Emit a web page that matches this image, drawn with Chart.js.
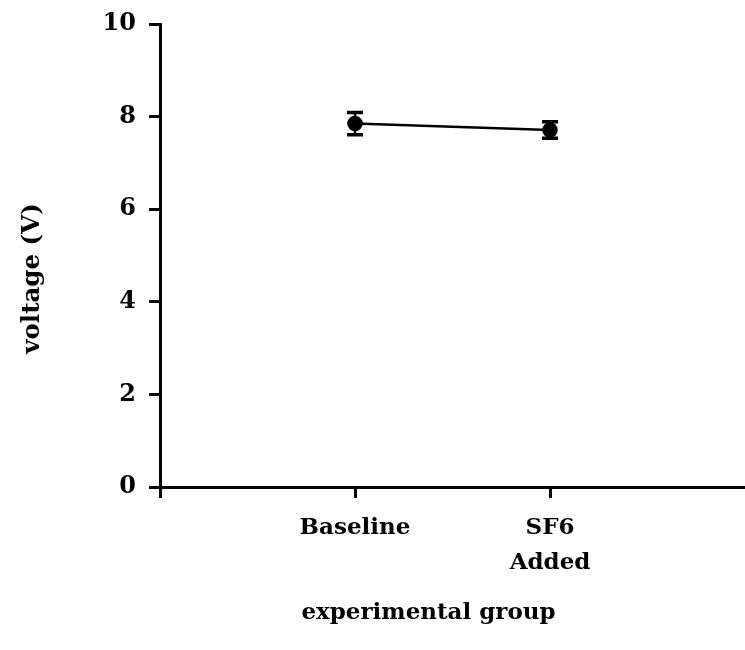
<!DOCTYPE html>
<html>
<head>
<meta charset="utf-8">
<script src="https://cdn.jsdelivr.net/npm/chart.js@4"></script>
<style>
  html, body { margin: 0; padding: 0; background: #fff; }
  #wrap { width: 745px; height: 650px; }
</style>
</head>
<body>
<div id="wrap"><canvas id="c" width="745" height="650"></canvas></div>
<script>
// ---- data ----
const categories = ['', 'Baseline', ['SF6', 'Added'], ''];
const meanVoltage = [null, 7.85, 7.71, null];
const errVoltage  = [null, 0.24, 0.18, null];
const yTicks = [0, 2, 4, 6, 8, 10];
const xTitle = 'experimental group';
const yTitle = 'voltage (V)';

const FONT = '"DejaVu Serif", "Liberation Serif", serif';

const errorBars = {
  id: 'errorBars',
  beforeDatasetsDraw(chart) {
    const ctx = chart.ctx;
    const xs = chart.scales.x, ys = chart.scales.y;
    ctx.save();
    ctx.strokeStyle = '#000';
    meanVoltage.forEach((m, i) => {
      if (m == null) return;
      const x = xs.getPixelForValue(i);
      const yt = ys.getPixelForValue(m + errVoltage[i]);
      const yb = ys.getPixelForValue(m - errVoltage[i]);
      ctx.lineWidth = 2.5;
      ctx.beginPath();
      ctx.moveTo(x, yt); ctx.lineTo(x, yb);
      ctx.stroke();
      ctx.lineWidth = 3.5;
      ctx.beginPath();
      ctx.moveTo(x - 8, yt); ctx.lineTo(x + 8, yt);
      ctx.moveTo(x - 8, yb); ctx.lineTo(x + 8, yb);
      ctx.stroke();
    });
    ctx.restore();
  }
};

const axisTitles = {
  id: 'axisTitles',
  afterDraw(chart) {
    const ctx = chart.ctx;
    const a = chart.chartArea;
    ctx.save();
    ctx.fillStyle = '#000';
    ctx.textAlign = 'center';
    ctx.textBaseline = 'middle';
    ctx.font = 'bold 23px ' + FONT;
    ctx.fillText(xTitle, (a.left + a.right) / 2 - 24, a.bottom + 126);
    ctx.font = 'bold 24.5px ' + FONT;
    ctx.translate(a.left - 127, (a.top + a.bottom) / 2 + 23);
    ctx.rotate(-Math.PI / 2);
    ctx.fillText(yTitle, 0, 0);
    ctx.restore();
  }
};

new Chart(document.getElementById('c'), {
  type: 'line',
  data: {
    labels: categories,
    datasets: [{
      data: meanVoltage,
      borderColor: '#000',
      backgroundColor: '#000',
      borderWidth: 2.5,
      pointRadius: 6.5,
      pointBackgroundColor: '#000',
      pointBorderColor: '#000',
      spanGaps: false,
      tension: 0
    }]
  },
  options: {
    responsive: false,
    animation: false,
    devicePixelRatio: 1,
    layout: { autoPadding: false, padding: { top: 24, right: 0, left: 0, bottom: 0 } },
    plugins: { legend: { display: false }, tooltip: { enabled: false } },
    scales: {
      x: {
        type: 'category',
        offset: false,
        afterFit(s) { s.height = 163; s.paddingLeft = 0; s.paddingRight = 0; },
        border: { display: true, color: '#000', width: 3 },
        grid: {
          drawOnChartArea: false,
          drawTicks: true,
          tickLength: 11,
          tickWidth: 3,
          tickColor: (c) => (c.index === categories.length - 1 ? 'rgba(0,0,0,0)' : '#000')
        },
        ticks: {
          color: '#000',
          padding: 12,
          maxRotation: 0,
          autoSkip: false,
          font: { family: FONT, size: 23, weight: 'bold', lineHeight: 1.55 }
        }
      },
      y: {
        min: 0, max: 10,
        afterFit(s) { s.width = 160; s.paddingTop = 0; s.paddingBottom = 0; },
        afterBuildTicks(s) { s.ticks = yTicks.map(v => ({ value: v })); },
        border: { display: true, color: '#000', width: 3 },
        grid: {
          drawOnChartArea: false,
          drawTicks: true,
          tickLength: 11,
          tickWidth: 3,
          color: '#000'
        },
        ticks: {
          color: '#000',
          padding: 13,
          font: { family: FONT, size: 24, weight: 'bold' }
        }
      }
    }
  },
  plugins: [errorBars, axisTitles]
});
</script>
</body>
</html>
